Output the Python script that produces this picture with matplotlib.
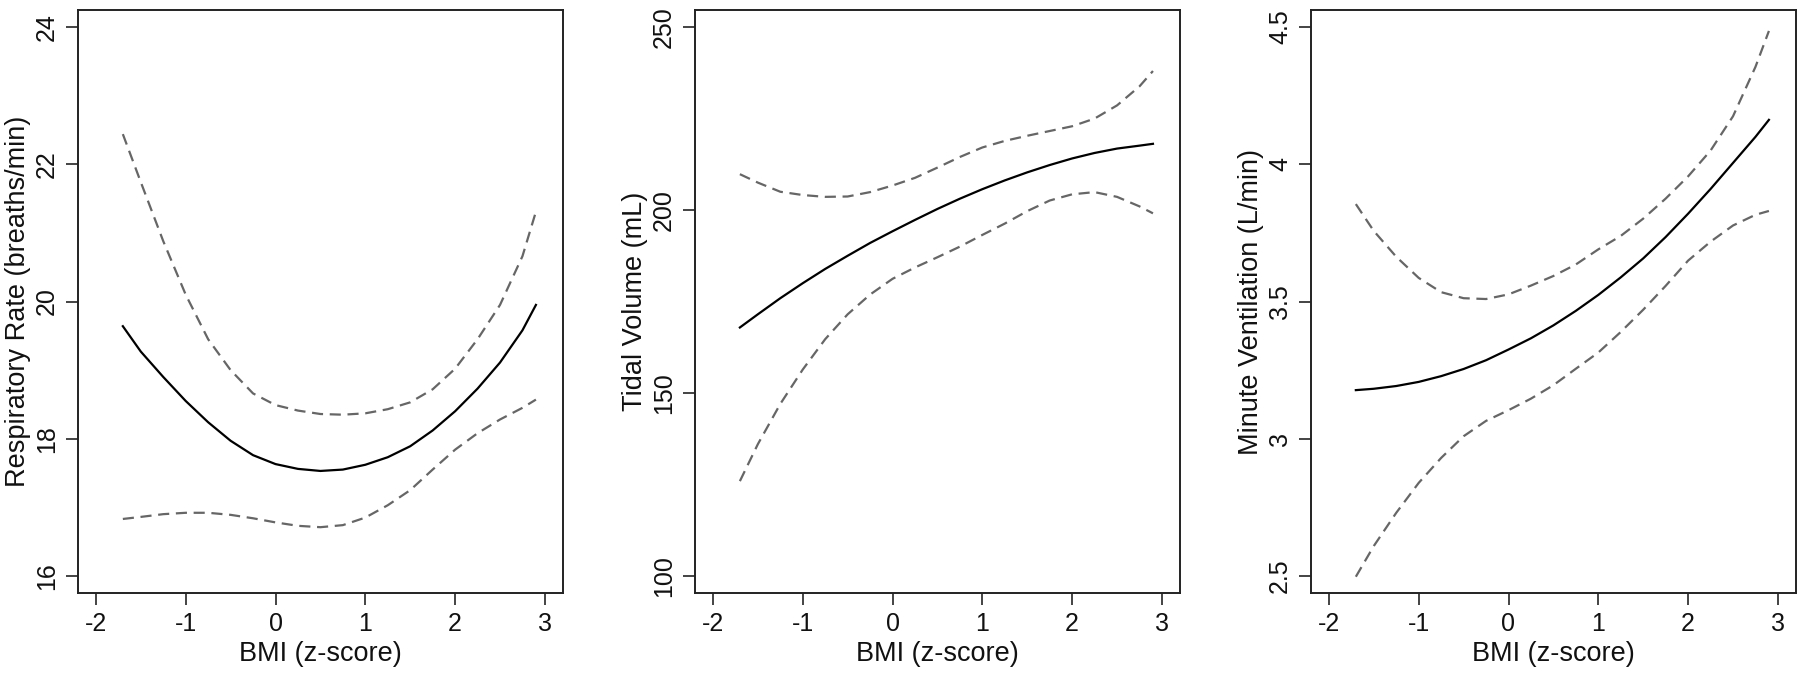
import matplotlib
matplotlib.use('Agg')
import matplotlib.pyplot as plt

plt.rcParams['font.family'] = ['Liberation Sans', 'DejaVu Sans']

# BMI z-score grid
bmi = [-1.7, -1.5, -1.25, -1.0, -0.75, -0.5, -0.25, 0.0, 0.25, 0.5,
       0.75, 1.0, 1.25, 1.5, 1.75, 2.0, 2.25, 2.5, 2.75, 2.9]

# Respiratory rate (breaths/min)
rr_fit = [19.64, 19.27, 18.90, 18.55, 18.24, 17.97, 17.76, 17.63, 17.56, 17.53,
          17.55, 17.62, 17.73, 17.89, 18.12, 18.40, 18.73, 19.11, 19.58, 19.95]
rr_upper = [22.44, 21.74, 20.88, 20.10, 19.45, 19.00, 18.66, 18.49, 18.41, 18.36,
            18.35, 18.37, 18.43, 18.53, 18.72, 19.02, 19.45, 19.95, 20.66, 21.31]
rr_lower = [16.83, 16.86, 16.90, 16.92, 16.92, 16.89, 16.84, 16.78, 16.73, 16.71,
            16.74, 16.85, 17.03, 17.25, 17.55, 17.84, 18.08, 18.28, 18.45, 18.57]

# Tidal volume (mL)
tv_fit = [167.9, 171.5, 175.9, 180.0, 183.9, 187.5, 191.0, 194.2, 197.3, 200.3,
          203.1, 205.7, 208.1, 210.3, 212.3, 214.1, 215.6, 216.8, 217.6, 218.1]
tv_upper = [209.8, 207.5, 205.0, 204.1, 203.6, 203.7, 204.9, 206.7, 208.8, 211.6,
            214.5, 217.1, 218.9, 220.3, 221.6, 222.9, 225.0, 228.6, 233.8, 238.0]
tv_lower = [125.9, 136.0, 147.0, 156.4, 164.7, 171.5, 176.9, 181.2, 184.3, 187.1,
            190.0, 193.2, 196.3, 199.7, 202.6, 204.3, 204.9, 203.6, 201.0, 199.1]

# Minute ventilation (L/min)
mv_fit = [3.177, 3.182, 3.192, 3.207, 3.228, 3.254, 3.286, 3.325, 3.366, 3.413,
          3.466, 3.524, 3.588, 3.657, 3.735, 3.820, 3.910, 4.005, 4.100, 4.162]
mv_upper = [3.855, 3.757, 3.663, 3.586, 3.534, 3.512, 3.509, 3.526, 3.558, 3.593,
            3.635, 3.690, 3.739, 3.802, 3.875, 3.956, 4.050, 4.175, 4.355, 4.486]
mv_lower = [2.497, 2.609, 2.730, 2.839, 2.930, 3.009, 3.065, 3.104, 3.146, 3.195,
            3.255, 3.314, 3.389, 3.470, 3.557, 3.649, 3.718, 3.777, 3.816, 3.830]

x_ticks = [-2, -1, 0, 1, 2, 3]

panels = [
    (rr_fit, rr_upper, rr_lower, 'Respiratory Rate (breaths/min)', [16, 18, 20, 22, 24], ['16', '18', '20', '22', '24']),
    (tv_fit, tv_upper, tv_lower, 'Tidal Volume (mL)', [100, 150, 200, 250], ['100', '150', '200', '250']),
    (mv_fit, mv_upper, mv_lower, 'Minute Ventilation (L/min)', [2.5, 3, 3.5, 4, 4.5], ['2.5', '3', '3.5', '4', '4.5']),
]
lefts = [0.0433, 0.3861, 0.7283]

fig = plt.figure(figsize=(18, 6.73), dpi=100)

for left, (fit, up, lo, ylab, yt, ytl) in zip(lefts, panels):
    ax = fig.add_axes([left, 0.119, 0.2694, 0.866])
    ax.plot(bmi, fit, color='black', lw=1.6)
    ax.plot(bmi, up, color='#666666', lw=1.6, dashes=(5, 3))
    ax.plot(bmi, lo, color='#666666', lw=1.6, dashes=(5, 3))

    ax.set_xlim(-2.2, 3.2)
    span = yt[-1] - yt[0]
    ax.set_ylim(yt[0] - 0.031 * span, yt[-1] + 0.031 * span)
    ax.set_xticks(x_ticks)
    ax.set_xticklabels([str(t) for t in x_ticks])
    ax.set_yticks(yt)
    ax.set_yticklabels(ytl, rotation=90, va='center')

    ax.tick_params(direction='out', length=8.5, width=1.1, labelsize=18, pad=5, colors='#111111')
    for s in ax.spines.values():
        s.set_linewidth(1.4)
        s.set_color('#222222')

    ax.set_xlabel('BMI (z-score)', fontsize=19.5, labelpad=4, color='#111111')
    ax.set_ylabel(ylab, fontsize=19.5, labelpad=3, color='#111111')

fig.savefig('out.png', dpi=100)
